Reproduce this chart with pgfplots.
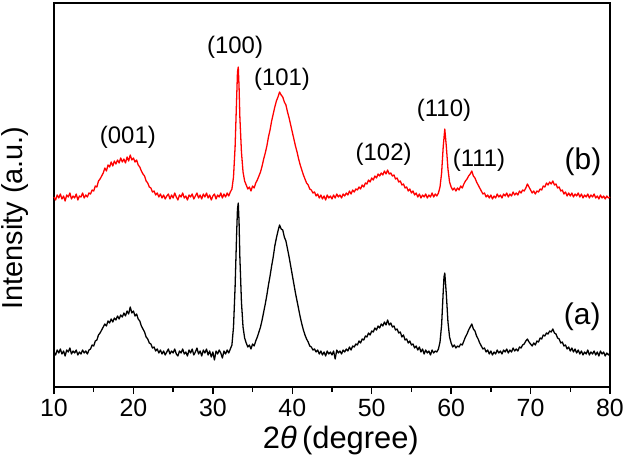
\documentclass[border=0pt]{standalone}
\usepackage{fontspec}
\setmainfont{Liberation Sans}
\usepackage{pgfplots}
\usepackage{pgfplotstable}
\pgfplotsset{compat=1.18}
\pgfplotstableread{
x y
10.0 190
10.2 187
10.4 192
10.6 189
10.8 193
11.0 188
11.2 191
11.4 186
11.6 192
11.8 190
12.0 194
12.2 188
12.4 191
12.6 189
12.8 193
13.0 187
13.2 191
13.4 190
13.6 194
13.8 189
14.0 192
14.2 190
14.4 194
14.6 193
14.8 197
15.0 196
15.2 201
15.4 200
15.6 206
15.8 208
16.0 211
16.2 214
16.4 219
16.6 216
16.8 222
17.0 220
17.2 225
17.4 221
17.6 226
17.8 223
18.0 227
18.2 224
18.4 229
18.6 225
18.8 228
19.0 224
19.2 230
19.4 226
19.6 232
19.8 227
20.0 229
20.2 225
20.4 227
20.6 222
20.8 220
21.0 216
21.2 213
21.4 211
21.6 206
21.8 204
22.0 200
22.2 199
22.4 195
22.6 196
22.8 192
23.0 194
23.2 190
23.4 193
23.6 189
23.8 192
24.0 188
24.2 191
24.4 193
24.6 188
24.8 192
25.0 189
25.2 194
25.4 190
25.6 187
25.8 192
26.0 190
26.2 194
26.4 189
26.6 191
26.8 187
27.0 192
27.2 190
27.4 193
27.6 188
27.8 191
28.0 194
28.2 189
28.4 192
28.6 188
28.8 193
29.0 190
29.2 194
29.4 189
29.6 192
29.8 187
30.0 191
30.2 193
30.4 188
30.6 192
30.8 190
31.0 194
31.2 189
31.4 193
31.6 190
31.8 194
32.0 191
32.2 195
32.4 198
32.6 210
32.8 240
33.0 290
33.1 315
33.2 320
33.3 300
33.4 270
33.6 235
33.8 215
34.0 206
34.2 202
34.4 198
34.6 200
34.8 196
35.0 201
35.2 199
35.4 204
35.6 207
35.8 211
36.0 215
36.2 221
36.4 228
36.6 234
36.8 241
37.0 250
37.2 257
37.4 266
37.6 273
37.8 280
38.0 286
38.2 290
38.4 295
38.6 292
38.8 290
39.0 285
39.2 282
39.4 275
39.6 269
39.8 262
40.0 255
40.2 248
40.4 241
40.6 235
40.8 228
41.0 222
41.2 217
41.4 212
41.6 208
41.8 204
42.0 202
42.2 198
42.4 197
42.6 194
42.8 195
43.0 191
43.2 193
43.4 189
43.6 192
43.8 188
44.0 191
44.2 187
44.4 192
44.6 189
44.8 191
45.0 188
45.2 192
45.4 189
45.6 193
45.8 190
46.0 192
46.2 189
46.4 193
46.6 191
46.8 194
47.0 192
47.2 196
47.4 193
47.6 197
47.8 195
48.0 198
48.2 197
48.4 200
48.6 198
48.8 202
49.0 200
49.2 204
49.4 203
49.6 207
49.8 205
50.0 209
50.2 207
50.4 211
50.6 209
50.8 213
51.0 211
51.2 214
51.4 212
51.6 216
51.8 213
52.0 217
52.2 213
52.4 214
52.6 211
52.8 212
53.0 208
53.2 209
53.4 205
53.6 206
53.8 202
54.0 203
54.2 199
54.4 200
54.6 196
54.8 198
55.0 194
55.2 196
55.4 192
55.6 194
55.8 190
56.0 193
56.2 189
56.4 192
56.6 190
56.8 193
57.0 189
57.2 192
57.4 190
57.6 194
57.8 190
58.0 193
58.2 191
58.4 194
58.6 200
58.8 214
59.0 240
59.2 258
59.4 240
59.6 218
59.8 205
60.0 200
60.2 197
60.4 199
60.6 196
60.8 199
61.0 197
61.2 201
61.4 199
61.6 203
61.8 206
62.0 208
62.2 211
62.4 213
62.6 216
62.8 211
63.0 209
63.2 205
63.4 202
63.6 199
63.8 196
64.0 193
64.2 194
64.4 190
64.6 192
64.8 189
65.0 192
65.2 188
65.4 191
65.6 189
65.8 193
66.0 190
66.2 192
66.4 189
66.6 193
66.8 191
67.0 194
67.2 190
67.4 193
67.6 191
67.8 195
68.0 192
68.2 194
68.4 192
68.6 196
68.8 194
69.0 197
69.2 196
69.4 199
69.6 203
69.8 200
70.0 197
70.2 194
70.4 196
70.6 193
70.8 196
71.0 195
71.2 198
71.4 197
71.6 201
71.8 200
72.0 204
72.2 202
72.4 205
72.6 203
72.8 206
73.0 202
73.2 203
73.4 199
73.6 200
73.8 196
74.0 197
74.2 193
74.4 195
74.6 191
74.8 194
75.0 191
75.2 194
75.4 190
75.6 193
75.8 191
76.0 194
76.2 190
76.4 193
76.6 189
76.8 192
77.0 190
77.2 193
77.4 189
77.6 192
77.8 190
78.0 193
78.2 189
78.4 191
78.6 188
78.8 192
79.0 189
79.2 191
79.4 188
79.6 191
79.8 189
80.0 190
}\seriesb
\pgfplotstableread{
x y
10.0 35
10.2 32
10.4 37
10.6 34
10.8 38
11.0 33
11.2 36
11.4 31
11.6 37
11.8 35
12.0 39
12.2 33
12.4 36
12.6 34
12.8 37
13.0 32
13.2 35
13.4 33
13.6 37
13.8 34
14.0 36
14.2 33
14.4 37
14.6 38
14.8 42
15.0 41
15.2 46
15.4 47
15.6 52
15.8 54
16.0 57
16.2 60
16.4 63
16.6 61
16.8 66
17.0 64
17.2 68
17.4 65
17.6 69
17.8 67
18.0 71
18.2 68
18.4 72
18.6 70
18.8 74
19.0 71
19.2 76
19.4 73
19.6 80
19.8 74
20.0 76
20.2 71
20.4 73
20.6 68
20.8 66
21.0 61
21.2 58
21.4 55
21.6 50
21.8 48
22.0 44
22.2 43
22.4 39
22.6 40
22.8 36
23.0 38
23.2 34
23.4 37
23.6 33
23.8 36
24.0 32
24.2 35
24.4 38
24.6 33
24.8 36
25.0 34
25.2 38
25.4 33
25.6 31
25.8 36
26.0 34
26.2 38
26.4 33
26.6 35
26.8 31
27.0 37
27.2 34
27.4 38
27.6 32
27.8 35
28.0 39
28.2 33
28.4 36
28.6 31
28.8 37
29.0 34
29.2 38
29.4 32
29.6 36
29.8 30
30.0 35
30.2 27
30.4 36
30.6 33
30.8 37
31.0 34
31.2 29
31.4 36
31.6 33
31.8 37
32.0 34
32.2 38
32.4 42
32.6 60
32.8 100
33.0 155
33.1 178
33.2 184
33.3 165
33.4 130
33.6 85
33.8 60
34.0 49
34.2 44
34.4 40
34.6 42
34.8 38
35.0 43
35.2 41
35.4 46
35.6 50
35.8 55
36.0 60
36.2 67
36.4 75
36.6 83
36.8 92
37.0 102
37.2 111
37.4 121
37.6 130
37.8 141
38.0 149
38.2 156
38.4 162
38.6 158
38.8 157
39.0 150
39.2 146
39.4 138
39.6 130
39.8 121
40.0 112
40.2 103
40.4 94
40.6 86
40.8 78
41.0 70
41.2 63
41.4 57
41.6 52
41.8 48
42.0 45
42.2 41
42.4 40
42.6 37
42.8 38
43.0 35
43.2 37
43.4 33
43.6 36
43.8 32
44.0 35
44.2 31
44.4 36
44.6 33
44.8 35
45.0 32
45.2 36
45.4 28
45.6 37
45.8 34
46.0 36
46.2 33
46.4 37
46.6 35
46.8 38
47.0 36
47.2 40
47.4 37
47.6 41
47.8 40
48.0 43
48.2 42
48.4 46
48.6 44
48.8 48
49.0 47
49.2 51
49.4 50
49.6 54
49.8 52
50.0 56
50.2 55
50.4 59
50.6 57
50.8 61
51.0 59
51.2 63
51.4 61
51.6 65
51.8 62
52.0 67
52.2 62
52.4 64
52.6 60
52.8 61
53.0 57
53.2 58
53.4 54
53.6 55
53.8 50
54.0 52
54.2 47
54.4 48
54.6 44
54.8 46
55.0 42
55.2 43
55.4 39
55.6 41
55.8 37
56.0 40
56.2 35
56.4 38
56.6 33
56.8 37
57.0 34
57.2 36
57.4 32
57.6 37
57.8 34
58.0 36
58.2 35
58.4 38
58.6 45
58.8 62
59.0 95
59.1 110
59.2 114
59.4 92
59.6 65
59.8 50
60.0 44
60.2 40
60.4 42
60.6 39
60.8 41
61.0 40
61.2 43
61.4 42
61.6 46
61.8 50
62.0 53
62.2 57
62.4 60
62.6 63
62.8 58
63.0 56
63.2 51
63.4 48
63.6 44
63.8 41
64.0 38
64.2 39
64.4 35
64.6 37
64.8 33
65.0 36
65.2 32
65.4 35
65.6 33
65.8 37
66.0 34
66.2 36
66.4 33
66.6 37
66.8 35
67.0 38
67.2 34
67.4 37
67.6 35
67.8 39
68.0 36
68.2 38
68.4 36
68.6 40
68.8 39
69.0 42
69.2 43
69.4 46
69.6 48
69.8 45
70.0 43
70.2 41
70.4 44
70.6 42
70.8 46
71.0 45
71.2 49
71.4 48
71.6 52
71.8 51
72.0 54
72.2 53
72.4 56
72.6 55
72.8 58
73.0 54
73.2 53
73.4 49
73.6 48
73.8 44
74.0 45
74.2 41
74.4 42
74.6 38
74.8 40
75.0 36
75.2 39
75.4 35
75.6 38
75.8 34
76.0 37
76.2 33
76.4 36
76.6 32
76.8 35
77.0 33
77.2 37
77.4 32
77.6 35
77.8 33
78.0 36
78.2 32
78.4 35
78.6 31
78.8 36
79.0 33
79.2 35
79.4 31
79.6 34
79.8 32
80.0 34
}\seriesa
\begin{document}
\begin{tikzpicture}
\path[use as bounding box] (-54bp,-69bp) rectangle (571bp,387bp);
\begin{axis}[
  scale only axis,
  width=556bp, height=384bp,
  xmin=10, xmax=80, ymin=0, ymax=384,
  xtick={10,20,...,80},
  minor x tick num=1,
  ytick=\empty,
  xtick pos=bottom,
  tick align=outside,
  major tick length=7bp,
  minor tick length=5bp,
  every tick/.style={black, line width=1.3pt},
  axis line style={line width=1.5pt},
  /pgf/number format/assume math mode=true,
  ticklabel style={font=\fontsize{25}{25}\selectfont},
  xticklabel style={yshift=-2bp},
  clip=false,
]
\addplot[black, line width=1.3pt, line join=round] table[x=x,y=y] {\seriesa};
\addplot[red, line width=1.3pt, line join=round] table[x=x,y=y] {\seriesb};
\begin{scope}[every node/.style={font=\fontsize{24}{24}\selectfont}]
\node at (axis cs:19.3,250) {(001)};
\node at (axis cs:32.8,340) {(100)};
\node at (axis cs:38.7,308) {(101)};
\node at (axis cs:51.5,233) {(102)};
\node at (axis cs:59.1,277) {(110)};
\node at (axis cs:63.5,227) {(111)};
\end{scope}
\node[font=\fontsize{30}{30}\selectfont] at (axis cs:76.6,225) {(b)};
\node[font=\fontsize{30}{30}\selectfont] at (axis cs:76.5,70) {(a)};
\node[font=\fontsize{31}{31}\selectfont] at ([yshift=-54bp]rel axis cs:0.516,0) {2\textit{θ}\,(degree)};
\node[font=\fontsize{29}{29}\selectfont, rotate=90] at ([xshift=-39bp]rel axis cs:0,0.44) {Intensity (a.u.)};
\end{axis}
\end{tikzpicture}
\end{document}
